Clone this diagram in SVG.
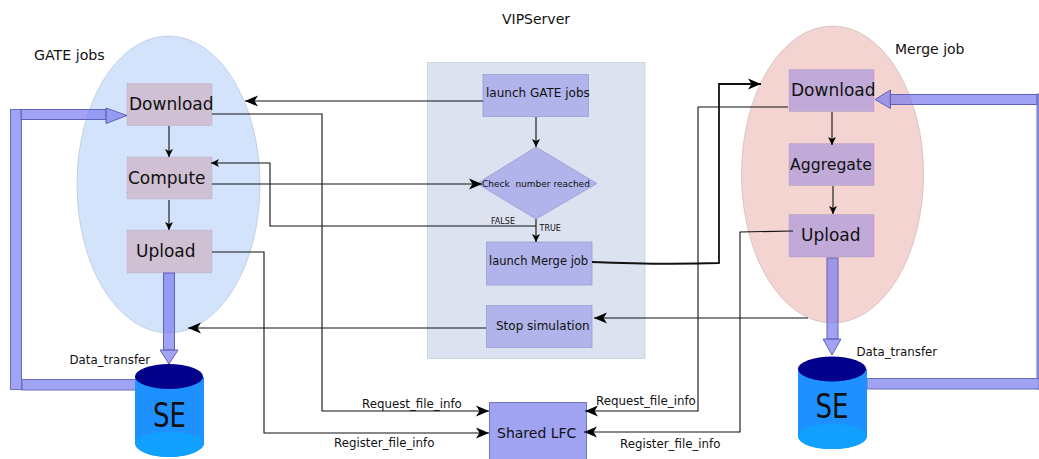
<svg xmlns="http://www.w3.org/2000/svg" width="1039" height="459" viewBox="0 0 1039 459">
<style>
text{font-family:"DejaVu Sans",sans-serif;fill:#111}
.l{font-size:11.8px}
.n{font-size:17px}
.gj{fill:#cfc0d4;stroke:#b0a4bc;stroke-width:.7;stroke-dasharray:1 1}
.mj{fill:#c2aad8;stroke:#a592c0;stroke-width:.7;stroke-dasharray:1 1}
.c{fill:none;stroke:#111;stroke-width:1.1}
.b{fill:#a0a2f2;stroke:#6a6cc0;stroke-width:1}
.t{fill:#7a7cf0;fill-opacity:.7;stroke:#6062b8;stroke-width:1}
.v{fill:#b0b4ea;stroke:#9a9ed0;stroke-width:.8}
.se{font-size:33px}
</style>
<defs>
<marker id="a" markerUnits="userSpaceOnUse" markerWidth="15" markerHeight="13" refX="13" refY="6" orient="auto"><path d="M0 .5 L13 6 L0 11.500 L3.500 6Z" fill="#000"/></marker>
<marker id="s" markerUnits="userSpaceOnUse" markerWidth="10" markerHeight="10" refX="8" refY="4" orient="auto"><path d="M0 0 L8 4 L0 8 L2 4Z" fill="#000"/></marker>
</defs>
<rect id="vipserver-panel" x="427.500" y="62.500" width="217.500" height="296" fill="#dde2f1" stroke="#c5cbe0" stroke-width=".7"/>
<ellipse id="gate-ellipse" cx="168.500" cy="184.500" rx="91.500" ry="148.500" fill="#d3e3fc" stroke="#b5c2d8" stroke-width=".7"/>
<ellipse id="merge-ellipse" cx="832.500" cy="174.500" rx="91" ry="148.500" fill="#f4d4d1" stroke="#cfb5b5" stroke-width=".7"/>
<text x="536" y="24" text-anchor="middle" style="font-size:14px">VIPServer</text>
<text x="34" y="60" style="font-size:14.2px">GATE jobs</text>
<text x="895" y="54" style="font-size:14px">Merge job</text>

<g id="gate-download"><rect class="gj" x="127" y="83.500" width="85" height="42"/><text class="n" x="129" y="110">Download</text></g>
<g id="gate-compute"><rect class="gj" x="127" y="157" width="85" height="42"/><text class="n" x="128" y="184">Compute</text></g>
<g id="gate-upload"><rect class="gj" x="127" y="230" width="85" height="43"/><text class="n" x="136" y="257">Upload</text></g>
<g id="launch-gate"><rect class="v" x="483" y="74.500" width="105.500" height="42"/><text x="486" y="97" style="font-size:12px">launch GATE jobs</text></g>
<g id="check"><path class="v" d="M477 183.500L536 147L597 183.500L536 219Z"/><text x="482" y="187" style="font-size:9px;white-space:pre">Check  number reached</text></g>
<g id="launch-merge"><rect class="v" x="486.500" y="242" width="105.500" height="43"/><text x="489" y="265" style="font-size:11.500px">launch Merge job</text></g>
<g id="stop"><rect class="v" x="486.500" y="305.500" width="105.500" height="42"/><text x="496" y="330" style="font-size:12px">Stop simulation</text></g>
<g id="merge-download"><rect class="mj" x="789" y="69.500" width="85" height="42"/><text class="n" x="791" y="96">Download</text></g>
<g id="merge-aggregate"><rect class="mj" x="789" y="143.500" width="85" height="42"/><text x="790" y="170" style="font-size:15.700px">Aggregate</text></g>
<g id="merge-upload"><rect class="mj" x="789" y="214.500" width="85" height="42.500"/><text class="n" x="801" y="241">Upload</text></g>
<g id="shared-lfc"><rect x="489.500" y="402.500" width="97" height="57" fill="#a0a2f2" stroke="#7478b8"/><text x="497" y="438" style="font-size:14px">Shared LFC</text></g>

<g id="connectors">
<path class="c" d="M483 101H245" marker-end="url(#a)"/>
<path class="c" d="M212 114H322V411H489" marker-end="url(#a)"/>
<path class="c" d="M169 126V157" marker-end="url(#s)"/>
<path class="c" d="M169 200V230" marker-end="url(#s)"/>
<path class="c" d="M212 184H482" marker-end="url(#a)"/>
<path class="c" d="M536 226H270V163H211" marker-end="url(#s)"/>
<path class="c" d="M536 117V147" marker-end="url(#s)"/>
<path class="c" d="M536 219V242" marker-end="url(#s)"/>
<path class="c" d="M212 252H264V433H489" marker-end="url(#a)"/>
<path class="c" d="M592 262C640 264 690 264 719 263V84H761" marker-end="url(#a)" style="stroke-width:1.8"/>
<path class="c" d="M808 318H594" marker-end="url(#a)"/>
<path class="c" d="M486 328H188" marker-end="url(#a)"/>
<path class="c" d="M788 107H698V411H585" marker-end="url(#a)"/>
<path class="c" d="M793 231L740 232V432H584" marker-end="url(#a)"/>
<path class="c" d="M832 112V145" marker-end="url(#s)"/>
<path class="c" d="M833 186V214" marker-end="url(#s)"/>
<g id="transfers">
<rect class="b" x="10.500" y="109.500" width="11" height="280"/>
<rect class="b" x="22" y="379.500" width="114" height="10.500"/>
<rect class="t" x="21" y="109.500" width="85" height="10"/>
<path class="t" d="M106 108V123.500L127 115.500Z"/>
<rect class="t" x="163.500" y="273" width="11" height="77"/>
<path class="t" d="M160 350H178L169 364Z"/>
<rect class="b" x="1037" y="94" width="2" height="295"/>
<rect class="t" x="890" y="94.500" width="147" height="10"/>
<path class="t" d="M890.500 90V108.500L875 99.500Z"/>
<rect class="t" x="827" y="258" width="11" height="81"/>
<path class="t" d="M823 339H841L832 355Z"/>
<rect class="b" x="867" y="378.500" width="172" height="10.500"/>
</g>
</g>
<text x="491" y="224" style="font-size:8px">FALSE</text>
<text x="539.500" y="231" style="font-size:8px">TRUE</text>

<g id="se-left">
<path d="M135 377V443C135 450 150 457 169 457S204 450 204 443V377Z" fill="#1e90ff"/>
<path d="M135 443C135 436 150 432 169 432S204 436 204 443C204 450 190 457 169 457S135 450 135 443Z" fill="#12a0ff"/>
<ellipse cx="169" cy="376.500" rx="34" ry="12.500" fill="#00008b"/>
<text class="se" x="153" y="427" textLength="33" lengthAdjust="spacingAndGlyphs">SE</text>
</g>
<g id="se-right">
<path d="M798 369V436C798 443 813 449 832 449S867 443 867 436V369Z" fill="#1e90ff"/>
<path d="M798 436C798 429 813 424 832 424S867 429 867 436C867 443 853 449 832 449S798 443 798 436Z" fill="#12a0ff"/>
<ellipse cx="832" cy="369" rx="34" ry="12.500" fill="#00008b"/>
<text class="se" x="815.500" y="418" textLength="33" lengthAdjust="spacingAndGlyphs">SE</text>
</g>
<text class="l" x="69.500" y="364">Data_transfer</text>
<text class="l" x="856.500" y="356">Data_transfer</text>
<text class="l" x="362" y="408">Request_file_info</text>
<text class="l" x="334" y="447">Register_file_info</text>
<text class="l" x="596" y="405">Request_file_info</text>
<text class="l" x="620" y="448">Register_file_info</text>
</svg>
